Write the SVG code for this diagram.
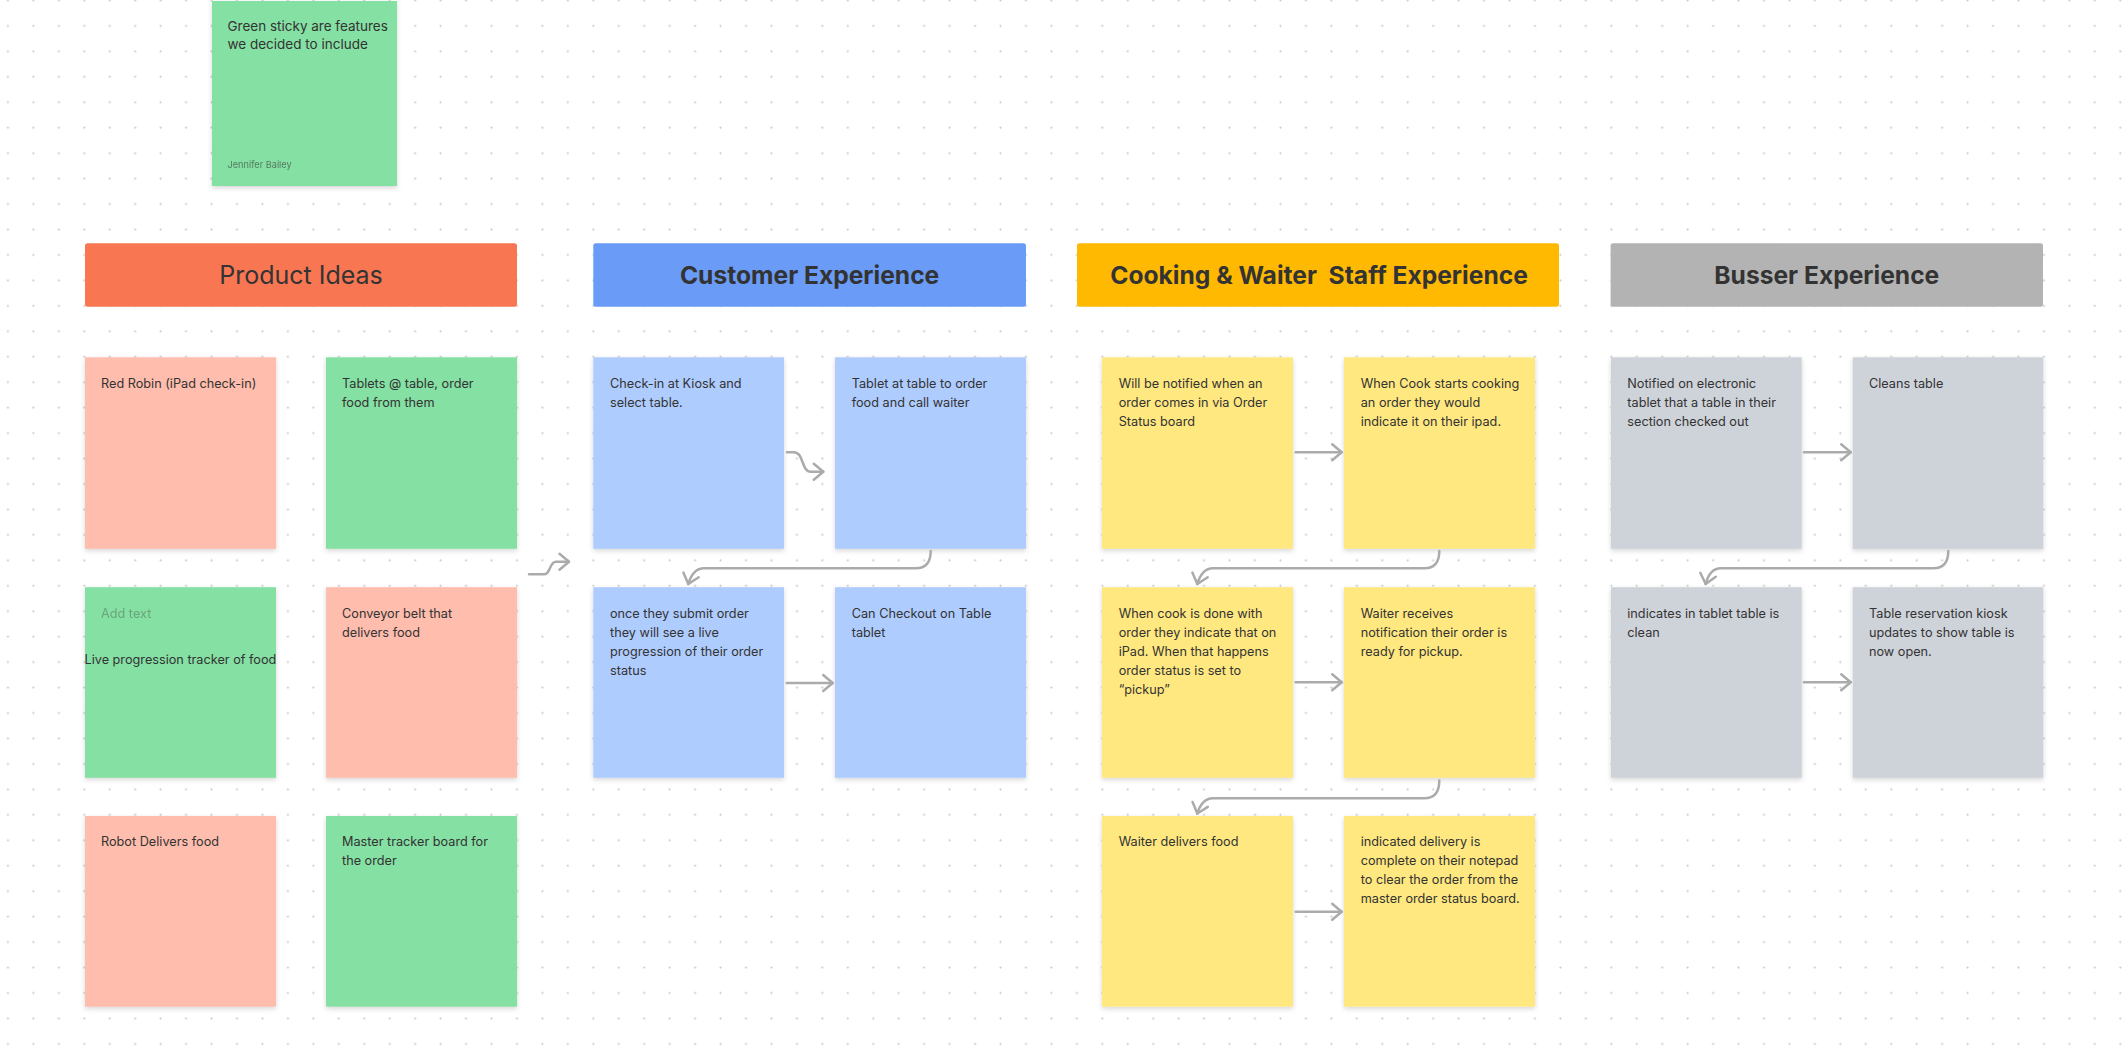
<svg xmlns="http://www.w3.org/2000/svg" width="2124" height="1062" viewBox="0 0 2124 1062">
  <defs>
    <pattern id="dots" x="6.45" y="-1.1" width="25.45" height="25.45" patternUnits="userSpaceOnUse">
      <circle cx="1.5" cy="1.5" r="1.1" fill="#c9c9c9"/>
    </pattern>
    <filter id="shadow" x="-10%" y="-10%" width="120%" height="125%">
      <feDropShadow dx="0" dy="2" stdDeviation="2.5" flood-color="#000" flood-opacity="0.16"/>
    </filter>
    <marker id="chev" markerUnits="userSpaceOnUse" markerWidth="24" markerHeight="24" viewBox="-12 -12 24 24" refX="0" refY="0" orient="auto">
      <path d="M -9.5 -8 L 0 0 L -9.5 8" fill="none" stroke="#ababab" stroke-width="2.5" stroke-linecap="round" stroke-linejoin="round"/>
    </marker>
    <style>
      .sticky { filter: url(#shadow); }
      .pink { fill: #FFBDAD; }
      .green { fill: #85E0A3; }
      .blue { fill: #AFCCFF; }
      .yellow { fill: #FFE880; }
      .gray { fill: #CED2D9; }
      .note { font-family: Inter, "Liberation Sans", sans-serif; font-size: 12.7px; fill: #333333; }
      .legend-note { font-family: Inter, "Liberation Sans", sans-serif; font-size: 13.5px; fill: #333333; }
      .head { font-family: Inter, "Liberation Sans", sans-serif; font-size: 25px; fill: #333333; text-anchor: middle; }
      .bold { font-weight: 700; font-size: 24.6px; }
      .conn { fill: none; stroke: #ababab; stroke-width: 2.5; stroke-linecap: round; stroke-linejoin: round; marker-end: url(#chev); }
    </style>
  </defs>

  <!-- canvas -->
  <rect width="2124" height="1062" fill="#ffffff"/>
  <rect width="2124" height="1062" fill="url(#dots)"/>

  <!-- legend -->
  <g id="legend">
    <rect class="sticky green" x="212" y="1" width="185" height="185"/>
    <text class="legend-note" x="227.5" y="31">Green sticky are features</text>
    <text class="legend-note" x="227.5" y="49">we decided to include</text>
    <text x="227.5" y="167.5" font-family="Inter, 'Liberation Sans', sans-serif" font-size="9.2px" fill="#333333" opacity="0.6">Jennifer Bailey</text>
  </g>

  <!-- section headers -->
  <g id="header-product-ideas">
    <rect x="85" y="243.3" width="432" height="63.4" rx="2.5" fill="#F87652"/>
    <text class="head" x="301" y="284">Product Ideas</text>
  </g>
  <g id="header-customer">
    <rect x="593.3" y="243.3" width="432.7" height="63.4" rx="2.5" fill="#699BF7"/>
    <text class="head bold" x="809.6" y="284">Customer Experience</text>
  </g>
  <g id="header-cooking">
    <rect x="1077" y="243.3" width="482" height="63.4" rx="2.5" fill="#FFB900"/>
    <text class="head bold" x="1319" y="284" xml:space="preserve">Cooking &amp; Waiter  Staff Experience</text>
  </g>
  <g id="header-busser">
    <rect x="1610.6" y="243.3" width="432.4" height="63.4" rx="2.5" fill="#B3B3B3"/>
    <text class="head bold" x="1826.8" y="284">Busser Experience</text>
  </g>

  <!-- product ideas -->
  <g id="idea-red-robin">
    <rect class="sticky pink" x="85" y="357.3" width="191" height="191.5"/>
    <text class="note" x="101" y="387.7">Red Robin (iPad check-in)</text>
  </g>
  <g id="idea-tablets">
    <rect class="sticky green" x="326" y="357.3" width="191" height="191.5"/>
    <text class="note" x="342" y="387.7">Tablets @ table, order</text>
    <text class="note" x="342" y="406.7">food from them</text>
  </g>
  <g id="idea-live-tracker">
    <rect class="sticky green" x="85" y="587.2" width="191" height="190.6"/>
    <text class="note" x="101" y="617.6" opacity="0.35">Add text</text>
    <text class="note" x="84.5" y="664">Live progression tracker of food</text>
  </g>
  <g id="idea-conveyor">
    <rect class="sticky pink" x="326" y="587.2" width="191" height="190.6"/>
    <text class="note" x="342" y="617.6">Conveyor belt that</text>
    <text class="note" x="342" y="636.6">delivers food</text>
  </g>
  <g id="idea-robot">
    <rect class="sticky pink" x="85" y="816" width="191" height="190.7"/>
    <text class="note" x="101" y="846.4">Robot Delivers food</text>
  </g>
  <g id="idea-master-board">
    <rect class="sticky green" x="326" y="816" width="191" height="190.7"/>
    <text class="note" x="342" y="846.4">Master tracker board for</text>
    <text class="note" x="342" y="865.4">the order</text>
  </g>

  <!-- customer experience -->
  <g id="cust-checkin">
    <rect class="sticky blue" x="593.3" y="357.3" width="190.7" height="191.5"/>
    <text class="note" x="610" y="387.7">Check-in at Kiosk and</text>
    <text class="note" x="610" y="406.7">select table.</text>
  </g>
  <g id="cust-tablet">
    <rect class="sticky blue" x="835" y="357.3" width="191" height="191.5"/>
    <text class="note" x="851.7" y="387.7">Tablet at table to order</text>
    <text class="note" x="851.7" y="406.7">food and call waiter</text>
  </g>
  <g id="cust-progress">
    <rect class="sticky blue" x="593.3" y="587.2" width="190.7" height="190.6"/>
    <text class="note" x="610" y="617.6">once they submit order</text>
    <text class="note" x="610" y="636.6">they will see a live</text>
    <text class="note" x="610" y="655.6">progression of their order</text>
    <text class="note" x="610" y="674.6">status</text>
  </g>
  <g id="cust-checkout">
    <rect class="sticky blue" x="835" y="587.2" width="191" height="190.6"/>
    <text class="note" x="851.7" y="617.6">Can Checkout on Table</text>
    <text class="note" x="851.7" y="636.6">tablet</text>
  </g>

  <!-- cooking and waiter staff -->
  <g id="cook-notified">
    <rect class="sticky yellow" x="1102" y="357.3" width="191" height="191.5"/>
    <text class="note" x="1118.7" y="387.7">Will be notified when an</text>
    <text class="note" x="1118.7" y="406.7">order comes in via Order</text>
    <text class="note" x="1118.7" y="425.7">Status board</text>
  </g>
  <g id="cook-starts">
    <rect class="sticky yellow" x="1344" y="357.3" width="191" height="191.5"/>
    <text class="note" x="1360.7" y="387.7">When Cook starts cooking</text>
    <text class="note" x="1360.7" y="406.7">an order they would</text>
    <text class="note" x="1360.7" y="425.7">indicate it on their ipad.</text>
  </g>
  <g id="cook-done">
    <rect class="sticky yellow" x="1102" y="587.2" width="191" height="190.6"/>
    <text class="note" x="1118.7" y="617.6">When cook is done with</text>
    <text class="note" x="1118.7" y="636.6">order they indicate that on</text>
    <text class="note" x="1118.7" y="655.6">iPad. When that happens</text>
    <text class="note" x="1118.7" y="674.6">order status is set to</text>
    <text class="note" x="1118.7" y="693.6">“pickup”</text>
  </g>
  <g id="waiter-notified">
    <rect class="sticky yellow" x="1344" y="587.2" width="191" height="190.6"/>
    <text class="note" x="1360.7" y="617.6">Waiter receives</text>
    <text class="note" x="1360.7" y="636.6">notification their order is</text>
    <text class="note" x="1360.7" y="655.6">ready for pickup.</text>
  </g>
  <g id="waiter-delivers">
    <rect class="sticky yellow" x="1102" y="816" width="191" height="190.7"/>
    <text class="note" x="1118.7" y="846.4">Waiter delivers food</text>
  </g>
  <g id="waiter-complete">
    <rect class="sticky yellow" x="1344" y="816" width="191" height="190.7"/>
    <text class="note" x="1360.7" y="846.4">indicated delivery is</text>
    <text class="note" x="1360.7" y="865.4">complete on their notepad</text>
    <text class="note" x="1360.7" y="884.4">to clear the order from the</text>
    <text class="note" x="1360.7" y="903.4">master order status board.</text>
  </g>

  <!-- busser -->
  <g id="busser-notified">
    <rect class="sticky gray" x="1611" y="357.3" width="190.7" height="191.5"/>
    <text class="note" x="1627.3" y="387.7">Notified on electronic</text>
    <text class="note" x="1627.3" y="406.7">tablet that a table in their</text>
    <text class="note" x="1627.3" y="425.7">section checked out</text>
  </g>
  <g id="busser-cleans">
    <rect class="sticky gray" x="1852.7" y="357.3" width="190.6" height="191.5"/>
    <text class="note" x="1869" y="387.7">Cleans table</text>
  </g>
  <g id="busser-clean-flag">
    <rect class="sticky gray" x="1611" y="587.2" width="190.7" height="190.6"/>
    <text class="note" x="1627.3" y="617.6">indicates in tablet table is</text>
    <text class="note" x="1627.3" y="636.6">clean</text>
  </g>
  <g id="busser-kiosk-open">
    <rect class="sticky gray" x="1852.7" y="587.2" width="190.6" height="190.6"/>
    <text class="note" x="1869" y="617.6">Table reservation kiosk</text>
    <text class="note" x="1869" y="636.6">updates to show table is</text>
    <text class="note" x="1869" y="655.6">now open.</text>
  </g>

  <!-- connectors -->
  <g id="connectors">
    <path class="conn" d="M 529 574.3 L 544 574.3 C 551 574.3 549 561.7 556 561.7 L 569 561.7"/>
    <path class="conn" d="M 787 452.3 L 794 452.3 C 804 452.3 801 471.7 811 471.7 L 823.3 471.7"/>
    <path class="conn" d="M 930.7 551 Q 930.7 568.3 915.7 568.3 L 704 568.3 C 695 568.3 691 575 688.3 584"/>
    <path class="conn" d="M 786.7 683 L 832.7 683"/>

    <path class="conn" d="M 1295.7 452.3 L 1341.7 452.3"/>
    <path class="conn" d="M 1439.3 551 Q 1439.3 568.3 1424.3 568.3 L 1213 568.3 C 1204 568.3 1200 575 1197.3 584"/>
    <path class="conn" d="M 1295.7 682.3 L 1341.7 682.3"/>
    <path class="conn" d="M 1439.3 780.5 Q 1439.3 798.3 1424.3 798.3 L 1213 798.3 C 1204 798.3 1200 805 1197.3 813.5"/>
    <path class="conn" d="M 1295.7 911.7 L 1341.7 911.7"/>

    <path class="conn" d="M 1804 452.3 L 1850.7 452.3"/>
    <path class="conn" d="M 1948.3 551 Q 1948.3 568.3 1933.3 568.3 L 1721 568.3 C 1712 568.3 1708 575 1705.7 584"/>
    <path class="conn" d="M 1804 682.3 L 1850.7 682.3"/>
  </g>
</svg>
